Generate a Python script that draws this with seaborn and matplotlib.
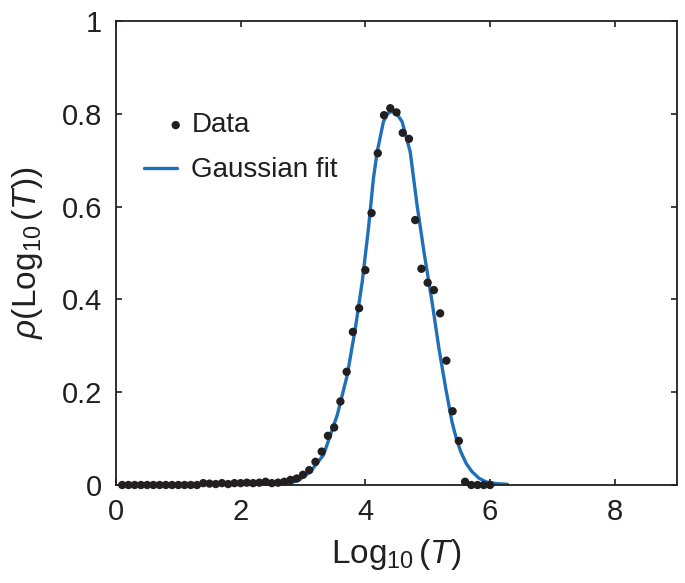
import matplotlib
matplotlib.use("Agg")
import matplotlib.pyplot as plt
from matplotlib.legend_handler import HandlerPathCollection
import seaborn as sns
import pandas as pd

# measured histogram of Log10(T)
data_x = [round(0.1 * k, 1) for k in range(1, 61)]
data_y = [0, 0, 0, 0, 0, 0, 0, 0, 0, 0,
          0, 0, 0, 0.004, 0.003, 0.002, 0.004, 0.002, 0.004, 0.004,
          0.005, 0.004, 0.005, 0.007, 0.004, 0.005, 0.007, 0.011, 0.014, 0.022,
          0.032, 0.050, 0.072, 0.106, 0.124, 0.180, 0.244, 0.330, 0.381, 0.463,
          0.586, 0.715, 0.797, 0.812, 0.803, 0.759, 0.746, 0.571, 0.466, 0.436,
          0.420, 0.370, 0.268, 0.159, 0.095, 0.007, 0, 0, 0, 0]

# gaussian fit curve
fit_x = [2.50, 2.65, 2.80, 2.95, 3.12, 3.33, 3.55, 3.71, 3.84, 3.95, 4.05, 4.13,
         4.19, 4.29, 4.36, 4.43, 4.50, 4.59, 4.72, 4.83, 4.94, 5.07, 5.18, 5.29,
         5.39, 5.46, 5.53, 5.62, 5.71, 5.82, 5.93, 6.10, 6.28]
fit_y = [0.0005, 0.002, 0.004, 0.012, 0.029, 0.065, 0.151, 0.237, 0.338, 0.438, 0.553, 0.661,
         0.718, 0.783, 0.801, 0.805, 0.801, 0.783, 0.718, 0.603, 0.503, 0.395, 0.295, 0.208,
         0.136, 0.100, 0.072, 0.046, 0.029, 0.015, 0.007, 0.003, 0.0015]

x_ticks = [0, 2, 4, 6, 8]
y_ticks = [0, 0.2, 0.4, 0.6, 0.8, 1]
y_tick_labels = ["0", "0.2", "0.4", "0.6", "0.8", "1"]


# legend dot sits at the right end of the handle, like the original
class RightDot(HandlerPathCollection):
    def get_xdata(self, legend, xdescent, ydescent, width, height, fontsize):
        xdata, _ = super().get_xdata(legend, xdescent, ydescent, width, height, fontsize)
        return xdata, [-xdescent + 0.95 * width]


sns.set_theme(style="ticks")
plt.rcParams["font.family"] = ["Liberation Sans", "DejaVu Sans"]
plt.rcParams["mathtext.fontset"] = "custom"
plt.rcParams["mathtext.rm"] = "Liberation Sans"
plt.rcParams["mathtext.it"] = "Liberation Sans:italic"

df_data = pd.DataFrame({"x": data_x, "y": data_y})
df_fit = pd.DataFrame({"x": fit_x, "y": fit_y})

fig = plt.figure(figsize=(6.85, 5.83), dpi=100)
ax = fig.add_axes([116 / 685, 1 - 485 / 583, (677 - 116) / 685, (485 - 21) / 583])

sns.lineplot(data=df_fit, x="x", y="y", ax=ax, color="#1f70b8", lw=2.4,
             label="Gaussian fit", zorder=2)
sns.scatterplot(data=df_data, x="x", y="y", ax=ax, color="#231f20", s=36,
                edgecolor="none", label="Data", zorder=3, clip_on=False)

ax.set_xlim(0, 9)
ax.set_ylim(0, 1)
ax.set_xticks(x_ticks)
ax.set_yticks(y_ticks)
ax.set_yticklabels(y_tick_labels)
ax.tick_params(direction="in", length=4, width=1.2, colors="#231f20",
               top=True, right=True, labelsize=21, labelcolor="#231f20")
ax.tick_params(axis="x", pad=9)
ax.tick_params(axis="y", pad=10)
for sp in ax.spines.values():
    sp.set_linewidth(1.3)
    sp.set_color("#231f20")

ax.set_xlabel(r"Log$_{10}\,$($T$)", fontsize=24, color="#231f20", labelpad=8)
ax.set_ylabel(r"$\rho$(Log$_{10}\,$($T$))", fontsize=24, color="#231f20", labelpad=12)

handles, labels = ax.get_legend_handles_labels()
order = [labels.index("Data"), labels.index("Gaussian fit")]
dot_handle = handles[order[0]]
ax.legend([handles[i] for i in order], [labels[i] for i in order],
          loc="upper left", bbox_to_anchor=(0.05, 0.803), frameon=False,
          fontsize=20, handlelength=1.2, handletextpad=0.5, labelspacing=0.68,
          borderpad=0, borderaxespad=0, labelcolor="#231f20",
          handler_map={dot_handle: RightDot()})

fig.savefig("out.png", dpi=100)
